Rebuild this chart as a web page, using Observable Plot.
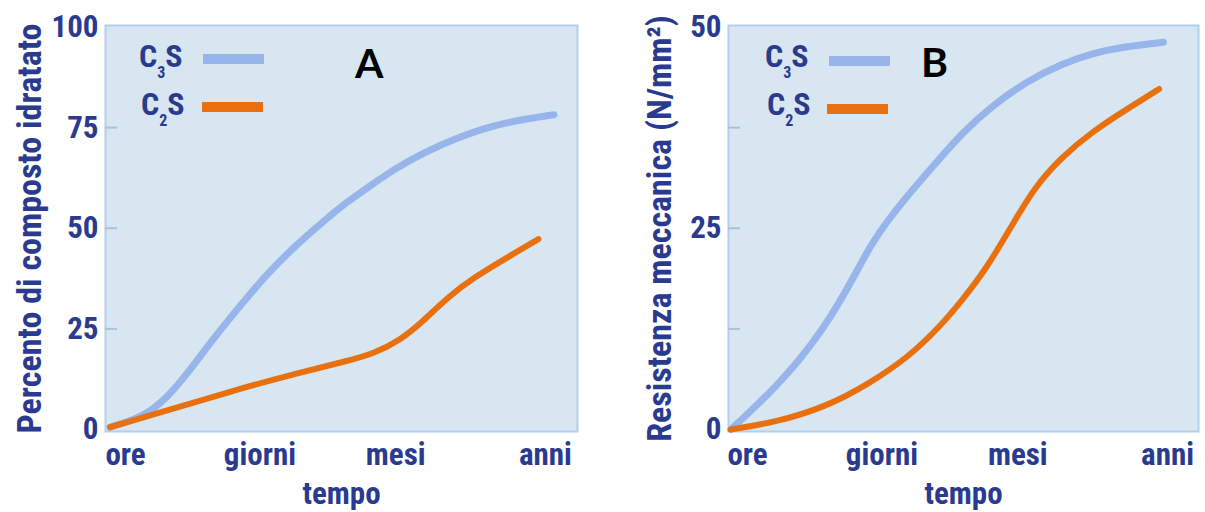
<!DOCTYPE html>
<html>
<head>
<meta charset="utf-8">
<script src="https://cdn.jsdelivr.net/npm/d3@7"></script>
<script src="https://cdn.jsdelivr.net/npm/@observablehq/plot@0.6"></script>
<style>
  body { margin: 0; background: #ffffff; }
  #wrap { position: relative; width: 1205px; height: 512px; overflow: hidden; }
  #wrap > svg { position: absolute; top: 0; }
</style>
</head>
<body>
<div id="wrap"></div>
<script>
// ---- data ----
const timeLabels = ["ore", "giorni", "mesi", "anni"];
const timeTicks = [0, 0.96, 1.93, 3];

const seriesNames = ["C₃S", "C₂S"];
const seriesColors = ["#97b5ea", "#e8700f"];

// Panel A: Percento di composto idratato
const aTitle = "Percento di composto idratato";
const aTicks = [0, 25, 50, 75, 100];
const aMinor = [25, 50, 75];
const aC3S = [[-0.11, 0.6], [0.13, 3.1], [0.30, 8.0], [0.44, 13.8], [0.58, 20.4], [0.73, 27], [0.87, 32.8],
  [1.01, 38.6], [1.20, 45.2], [1.39, 51], [1.58, 56.5], [1.73, 60.1], [1.92, 64.7], [2.13, 68.8],
  [2.37, 72.5], [2.61, 75.4], [2.85, 77.1], [3.06, 78.2]];
const aC2S = [[-0.11, 0.6], [0.30, 4.7], [0.77, 9.7], [1.25, 14.2], [1.56, 16.8], [1.77, 18.8], [1.96, 22.1],
  [2.13, 27], [2.30, 32.8], [2.49, 37.8], [2.73, 42.8], [2.95, 47.3]];

// Panel B: Resistenza meccanica
const bTitle = "Resistenza meccanica (N/mm²)";
const bTicks = [0, 25, 50];
const bMinor = [12.5, 25, 37.5];
const bC3S = [[-0.12, 0], [0.03, 2.4], [0.2, 5.3], [0.37, 8.6], [0.53, 12.3], [0.65, 15.6], [0.77, 19.3],
  [0.88, 22.9], [0.99, 25.7], [1.13, 28.8], [1.32, 32.6], [1.54, 37.0], [1.76, 40.4], [2.0, 43.3],
  [2.24, 45.4], [2.47, 46.8], [2.71, 47.6], [2.97, 48.1]];
const bC2S = [[-0.12, 0], [0.2, 0.9], [0.56, 2.8], [0.87, 5.7], [1.15, 9.0], [1.37, 12.7], [1.54, 16.2],
  [1.71, 20.1], [1.88, 25.1], [2.05, 30.1], [2.24, 33.8], [2.47, 37.1], [2.71, 39.8], [2.94, 42.3]];

// ---- drawing ----
const FONT = '"Liberation Sans Narrow", "Roboto Condensed", "Arial Narrow", "Liberation Sans", sans-serif';
const INK = "#2a3b8f";

function panel({left, width, marginLeft, marginRight, xDomain, yDomain, yTicks, yMinor, title, titleDx, c3s, c2s}) {
  const svg = Plot.plot({
    width, height: 512,
    marginLeft, marginRight, marginTop: 25, marginBottom: 81,
    x: {domain: xDomain, axis: null},
    y: {domain: yDomain, axis: null},
    style: {fontFamily: FONT, fontWeight: "bold", color: INK, background: "transparent", overflow: "visible"},
    marks: [
      Plot.frame({fill: "#d8e6f2", stroke: "#b4cfea", strokeWidth: 2}),
      Plot.axisY(yMinor, {tickSize: -12, tickFormat: () => "", stroke: "#a9c2dc", strokeWidth: 2, label: null}),
      Plot.axisY(yTicks, {tickSize: 0, tickPadding: 7, fontSize: 31, label: null}),
      Plot.axisX(timeTicks, {tickSize: 0, tickPadding: 11, fontSize: 31, label: null,
        tickFormat: d => timeLabels[timeTicks.indexOf(d)]}),
      Plot.line(c3s, {x: d => d[0], y: d => d[1], stroke: seriesColors[0], strokeWidth: 7, curve: "basis"}),
      Plot.line(c2s, {x: d => d[0], y: d => d[1], stroke: seriesColors[1], strokeWidth: 6, curve: "basis"}),
      Plot.text([title], {frameAnchor: "left", dx: titleDx, rotate: -90, fontSize: 34, textAnchor: "middle",
        lineAnchor: "middle", fill: INK}),
      Plot.text(["tempo"], {frameAnchor: "bottom", dy: 63, fontSize: 31, lineAnchor: "middle", fill: INK})
    ]
  });
  svg.style.left = left + "px";
  return svg;
}

const wrap = document.getElementById("wrap");
wrap.appendChild(panel({left: 0, width: 600, marginLeft: 105, marginRight: 23, xDomain: [-0.143, 3.229],
  yDomain: [-0.5, 100.37], yTicks: aTicks, yMinor: aMinor, title: aTitle, titleDx: -75, c3s: aC3S, c2s: aC2S}));
wrap.appendChild(panel({left: 600, width: 605, marginLeft: 128, marginRight: 7, xDomain: [-0.136, 3.221],
  yDomain: [-0.25, 50.19], yTicks: bTicks, yMinor: bMinor, title: bTitle, titleDx: -68, c3s: bC3S, c2s: bC2S}));

// ---- legends & panel letters (overlay) ----
const ov = d3.select(wrap).append("svg")
  .attr("width", 1205).attr("height", 512)
  .style("left", "0px").style("pointer-events", "none");

const legends = [
  {tx: [139, 141], sx: [203, 202], sy: [54, 102], letter: "A", lx: 355, ly: 78},
  {tx: [765, 767], sx: [829, 827], sy: [56, 104], letter: "B", lx: 921, ly: 77}
];
legends.forEach(L => {
  [0, 1].forEach(i => {
    const base = i === 0 ? 67 : 115;
    const sub = i === 0 ? "3" : "2";
    const t = ov.append("text").attr("x", L.tx[i]).attr("y", base)
      .attr("font-family", FONT).attr("font-weight", "bold").attr("font-size", 32).attr("fill", INK);
    t.append("tspan").text("C");
    t.append("tspan").attr("font-size", 16).attr("dy", 11).text(sub);
    t.append("tspan").attr("font-size", 32).attr("dy", -11).text("S");
    ov.append("rect").attr("x", L.sx[i]).attr("y", L.sy[i])
      .attr("width", 61).attr("height", 10).attr("fill", seriesColors[i]);
  });
  ov.append("text").attr("x", L.lx).attr("y", L.ly)
    .attr("font-family", 'Lato, "Open Sans", sans-serif').attr("font-weight", "bold")
    .attr("font-size", 41).attr("fill", "#000").text(L.letter);
});
</script>
</body>
</html>
